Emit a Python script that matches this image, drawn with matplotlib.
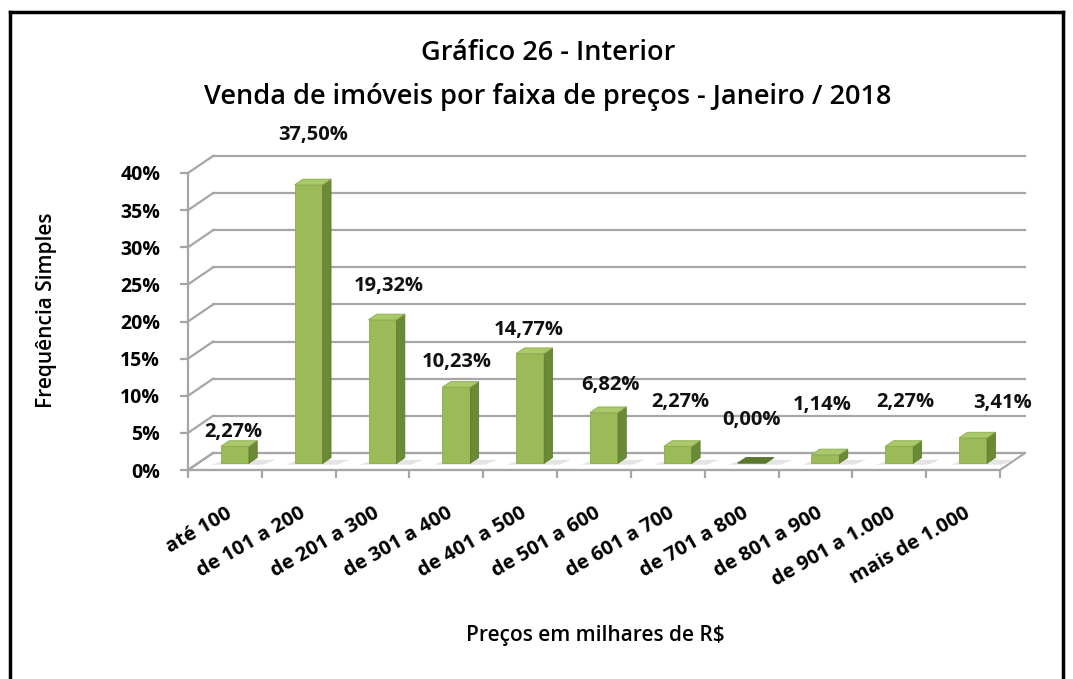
import numpy as np
import matplotlib
matplotlib.use('Agg')
from matplotlib import pyplot as plt
from matplotlib.patches import Polygon
from matplotlib.lines import Line2D

plt.rcParams['font.family'] = ['Open Sans', 'DejaVu Sans']

categorias = ['até 100', 'de 101 a 200', 'de 201 a 300', 'de 301 a 400', 'de 401 a 500',
              'de 501 a 600', 'de 601 a 700', 'de 701 a 800', 'de 801 a 900',
              'de 901 a 1.000', 'mais de 1.000']
valores = [2.27, 37.50, 19.32, 10.23, 14.77, 6.82, 2.27, 0.00, 1.14, 2.27, 3.41]
rotulos = ['2,27%', '37,50%', '19,32%', '10,23%', '14,77%', '6,82%', '2,27%', '0,00%',
           '1,14%', '2,27%', '3,41%']
yticks = [0, 5, 10, 15, 20, 25, 30, 35, 40]

# posicao dos rotulos (ajuste visual, estilo excel 3d)
lab_dx = [0.11, 0.19, 0.22, 0.14, 0.11, 0.22, 0.17, 0.14, 0.09, 0.22, 0.53]
lab_dy = [2.85, 7.6, 5.5, 4.3, 4.1, 4.6, 6.9, 6.7, 7.6, 6.9, 5.6]

n = len(categorias)
DX = 0.339   # profundidade em x (unidades de categoria)
DY = 2.29    # profundidade em y (%)
f0 = 0.40    # frente da barra (fracao da profundidade)
bd = 0.33    # profundidade da barra
w = 0.38     # largura da barra

fig = plt.figure(figsize=(10.73, 6.79), dpi=100)
ax = fig.add_axes([188 / 1073, 1 - 470 / 679, 812 / 1073, 297 / 679])
ax.set_xlim(0, n)
ax.set_ylim(0, 40)
ax.patch.set_alpha(0)
grid = '#a6a6a6'

# piso
ax.add_patch(Polygon([(0, 0), (n, 0), (n + DX, DY), (DX, DY)], closed=True,
                     facecolor='white', edgecolor=grid, lw=1.5, clip_on=False, zorder=1))
# parede do fundo + lateral
for v in yticks:
    ax.add_line(Line2D([DX, n + DX], [v + DY, v + DY], color=grid, lw=1.6, clip_on=False, zorder=1))
    ax.add_line(Line2D([0, DX], [v, v + DY], color=grid, lw=1.6, clip_on=False, zorder=1))

# barras
for i, v in enumerate(valores):
    x0 = i + 0.5 - w / 2 + f0 * DX
    x1 = x0 + w
    y0 = f0 * DY
    y1 = y0 + v
    ex, ey = bd * DX, bd * DY
    # sombra
    ax.add_patch(Polygon([(x0 - 0.12, y0 - 0.2), (x1 + 0.2, y0 - 0.2), (x1 + ex + 0.25, y0 + ey * 0.6),
                          (x0 + ex - 0.05, y0 + ey * 0.6)], closed=True, facecolor='#e4e4e4',
                         edgecolor='none', clip_on=False, zorder=2))
    if v > 0:
        ax.bar(x0, v, width=w, bottom=y0, align='edge', color='#9bbb59', edgecolor='#8aab4a',
               lw=0.6, zorder=3, clip_on=False)
        ax.add_patch(Polygon([(x1, y0), (x1 + ex, y0 + ey), (x1 + ex, y1 + ey), (x1, y1)], closed=True,
                             facecolor='#6b8a35', edgecolor='#5f7c2e', lw=0.6, clip_on=False, zorder=3))
        ax.add_patch(Polygon([(x0, y1), (x1, y1), (x1 + ex, y1 + ey), (x0 + ex, y1 + ey)], closed=True,
                             facecolor='#a9c96a', edgecolor='#8aab4a', lw=0.6, clip_on=False, zorder=3))
    else:
        ax.add_patch(Polygon([(x0, y1), (x1, y1), (x1 + ex, y1 + ey), (x0 + ex, y1 + ey)], closed=True,
                             facecolor='#5c7a2c', edgecolor='#4f6b25', lw=0.6, clip_on=False, zorder=3))
    ax.text(i + 0.5 + lab_dx[i], v + lab_dy[i], rotulos[i], ha='center', va='center',
            fontsize=14.5, fontweight='bold', color='#111111', clip_on=False, zorder=5)

# eixos
for s in ['top', 'right']:
    ax.spines[s].set_visible(False)
for s in ['left', 'bottom']:
    ax.spines[s].set_color(grid)
    ax.spines[s].set_linewidth(1.6)
    ax.spines[s].set_zorder(4)
ax.set_yticks(yticks)
ax.set_yticklabels([f'{v}%' for v in yticks], fontsize=14, fontweight='bold')
ax.set_xticks(np.arange(n + 1))
ax.set_xticklabels([])
ax.set_xticks(np.arange(n) + 0.5, minor=True)
ax.set_xticklabels(categorias, minor=True, rotation=30, ha='right', rotation_mode='anchor',
                   fontsize=14.5, fontweight='bold')
ax.tick_params(axis='both', which='major', color=grid, width=1.6, length=6, direction='out')
ax.tick_params(axis='y', pad=14)
ax.tick_params(axis='x', which='minor', length=0, pad=24)

fig.text(47 / 1073, 1 - 310 / 679, 'Frequência Simples', rotation=90, ha='center', va='center',
         fontsize=15, fontweight='semibold')
fig.text(595 / 1073, 1 - 635 / 679, 'Preços em milhares de R$', ha='center', va='center',
         fontsize=15, fontweight='semibold')
fig.text(548 / 1073, 1 - 53 / 679, 'Gráfico 26 - Interior', ha='center', va='center',
         fontsize=19.5, fontweight='semibold')
fig.text(548 / 1073, 1 - 97 / 679, 'Venda de imóveis por faixa de preços - Janeiro / 2018',
         ha='center', va='center', fontsize=19.5, fontweight='semibold')

# moldura
for xs, ys in [([10, 10], [679, 12]), ([10, 1063], [12, 12]), ([1063, 1063], [12, 679])]:
    fig.add_artist(Line2D([x / 1073 for x in xs], [1 - y / 679 for y in ys], color='black', lw=2.5))

fig.savefig('out.png', dpi=100)
